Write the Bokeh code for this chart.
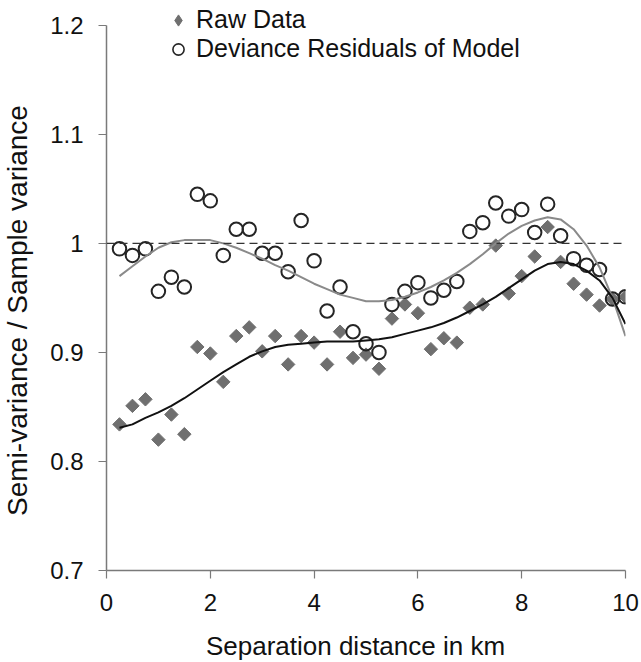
import numpy as np
from bokeh.plotting import figure
from bokeh.models import (ColumnDataSource, Legend, LegendItem, Span, FixedTicker,
                          CustomJSTickFormatter, Range1d, Label)
from bokeh.core.properties import value
from bokeh.embed import file_html
from bokeh.resources import INLINE

# ---- data ----
distance_km = [0.25, 0.5, 0.75, 1.0, 1.25, 1.5, 1.75, 2.0, 2.25, 2.5,
               2.75, 3.0, 3.25, 3.5, 3.75, 4.0, 4.25, 4.5, 4.75, 5.0,
               5.25, 5.5, 5.75, 6.0, 6.25, 6.5, 6.75, 7.0, 7.25, 7.5,
               7.75, 8.0, 8.25, 8.5, 8.75, 9.0, 9.25, 9.5, 9.75, 10.0]

raw_data = [0.834, 0.851, 0.857, 0.820, 0.843, 0.825, 0.905, 0.899, 0.873, 0.915,
            0.923, 0.901, 0.915, 0.889, 0.915, 0.909, 0.889, 0.919, 0.895, 0.898,
            0.885, 0.931, 0.944, 0.936, 0.903, 0.913, 0.909, 0.941, 0.944, 0.998,
            0.954, 0.970, 0.988, 1.015, 0.983, 0.963, 0.953, 0.943, 0.949, 0.951]

deviance_residuals = [0.995, 0.989, 0.995, 0.956, 0.969, 0.960, 1.045, 1.039, 0.989, 1.013,
                      1.013, 0.991, 0.991, 0.974, 1.021, 0.984, 0.938, 0.960, 0.919, 0.908,
                      0.900, 0.944, 0.956, 0.964, 0.950, 0.957, 0.965, 1.011, 1.019, 1.037,
                      1.025, 1.031, 1.010, 1.036, 1.007, 0.986, 0.980, 0.976, 0.949, 0.951]

raw_trend = [0.831, 0.834, 0.840, 0.845, 0.851, 0.858, 0.866, 0.874, 0.882, 0.889,
             0.896, 0.901, 0.905, 0.907, 0.908, 0.909, 0.910, 0.910, 0.910, 0.911,
             0.912, 0.914, 0.917, 0.920, 0.923, 0.927, 0.932, 0.938, 0.944, 0.951,
             0.959, 0.967, 0.975, 0.981, 0.983, 0.981, 0.975, 0.966, 0.950, 0.926]

residual_trend = [0.970, 0.979, 0.988, 0.996, 1.001, 1.003, 1.003, 1.003, 1.000, 0.996,
                  0.991, 0.986, 0.980, 0.975, 0.969, 0.963, 0.958, 0.953, 0.950, 0.947,
                  0.947, 0.948, 0.951, 0.955, 0.960, 0.966, 0.973, 0.981, 0.990, 1.000,
                  1.009, 1.016, 1.021, 1.024, 1.022, 1.013, 0.998, 0.978, 0.950, 0.915]

reference_level = 1.0
x_ticks = [0, 2, 4, 6, 8, 10]
y_ticks = [0.7, 0.8, 0.9, 1.0, 1.1, 1.2]
x_title = "Separation distance in km"
y_title = "Semi-variance / Sample variance"

src = ColumnDataSource(dict(x=distance_km, raw=raw_data, res=deviance_residuals,
                            raw_fit=raw_trend, res_fit=residual_trend))

FONT = "Liberation Sans"
AXIS_COL = "#7a7a7a"
GRAY = "#6f6f6f"

p = figure(width=641, height=662, output_backend="svg", toolbar_location=None,
           x_range=Range1d(0, 10), y_range=Range1d(0.7, 1.22),
           min_border_left=106, min_border_right=16, min_border_top=3, min_border_bottom=92)
p.outline_line_color = None
p.grid.visible = False
p.background_fill_color = "white"
p.border_fill_color = "white"

# markers
r_raw = p.scatter("x", "raw", source=src, marker="square", angle=np.pi / 4, size=9.5,
                  fill_color=GRAY, line_color=GRAY)
r_res = p.scatter("x", "res", source=src, marker="circle", size=13.5,
                  fill_color=None, line_color="#252525", line_width=2)

# trend lines
p.line("x", "res_fit", source=src, line_color="#8a8a8a", line_width=2)
p.line("x", "raw_fit", source=src, line_color="#111111", line_width=2)

# reference level
p.add_layout(Span(location=reference_level, dimension="width", line_color="#333333",
                  line_width=1.3, line_dash="8 5"))

# legend-only renderers (no visible data point)
nan_src = ColumnDataSource(dict(x=[float("nan")], y=[float("nan")]))
leg_raw = p.scatter("x", "y", source=nan_src, marker="diamond", fill_color=GRAY, line_color=GRAY)
leg_res = p.scatter("x", "y", source=nan_src, marker="circle", fill_color=None,
                    line_color="#252525", line_width=1.6)

legend = Legend(items=[LegendItem(label=value("Raw Data"), renderers=[leg_raw]),
                       LegendItem(label=value("Deviance Residuals of Model"), renderers=[leg_res])],
                location=(58, 507), padding=0, margin=0, spacing=0,
                glyph_width=28, glyph_height=28, label_standoff=4,
                label_text_font=FONT, label_text_font_size="25px", label_text_color="#111111",
                background_fill_alpha=0, border_line_color=None)
p.add_layout(legend, "center")

# axes
xa = p.xaxis[0]
xa.ticker = FixedTicker(ticks=x_ticks)
ya = p.yaxis[0]
ya.ticker = FixedTicker(ticks=y_ticks)
ya.formatter = CustomJSTickFormatter(code="return Number(tick.toFixed(2)).toString();")
ya.bounds = (0.7, 1.2)

for ax in (xa, ya):
    ax.axis_line_color = AXIS_COL
    ax.axis_line_width = 1.5
    ax.major_tick_line_color = AXIS_COL
    ax.major_tick_line_width = 1.2
    ax.major_tick_out = 8
    ax.major_tick_in = 0
    ax.minor_tick_line_color = None
    ax.major_label_text_font = FONT
    ax.major_label_text_font_size = "24px"
    ax.major_label_text_color = "#111111"

xa.major_label_standoff = 15
ya.major_label_standoff = 15

# axis titles as labels in the side panels
p.add_layout(Label(x=249, y=-2, x_units="screen", y_units="screen", text=x_title,
                   text_font=FONT, text_font_size="26px", text_color="#111111",
                   text_align="center", text_baseline="middle"), "below")
p.add_layout(Label(x=1, y=260, x_units="screen", y_units="screen", text=y_title,
                   angle=np.pi / 2, text_font=FONT, text_font_size="28px", text_color="#111111",
                   text_align="center", text_baseline="middle"), "left")

open("out.html", "w").write(file_html(p, INLINE))
